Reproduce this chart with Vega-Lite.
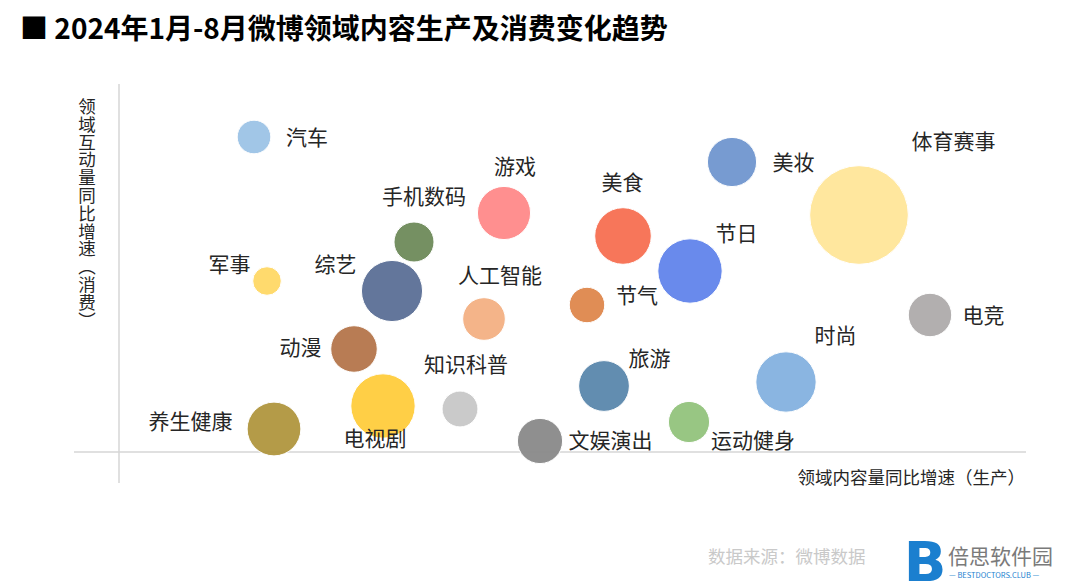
{
  "$schema": "https://vega.github.io/schema/vega-lite/v6.json",
  "width": 1080,
  "height": 588,
  "autosize": {"type": "none"},
  "padding": 0,
  "background": "white",
  "config": {"view": {"stroke": null}, "font": "Noto Sans CJK SC"},
  "title": {
    "text": "■ 2024年1月-8月微博领域内容生产及消费变化趋势",
    "anchor": "start",
    "frame": "group",
    "fontSize": 28,
    "fontWeight": "bold",
    "font": "Noto Sans CJK SC",
    "color": "#000000",
    "offset": -59,
    "baseline": "middle",
    "dx": 20
  },
  "datasets": {
    "bubbles": [
      {"name": "汽车", "x": 13.5, "y": 31.5, "v": 36, "lx": 18.8, "ly": 31.3},
      {"name": "游戏", "x": 38.5, "y": 23.9, "v": 90, "lx": 39.6, "ly": 28.4},
      {"name": "手机数码", "x": 29.5, "y": 21.0, "v": 51, "lx": 30.5, "ly": 25.4},
      {"name": "军事", "x": 14.8, "y": 17.1, "v": 26, "lx": 11.05, "ly": 18.6},
      {"name": "综艺", "x": 27.3, "y": 16.1, "v": 119, "lx": 21.65, "ly": 18.6},
      {"name": "人工智能", "x": 36.5, "y": 13.3, "v": 58, "lx": 38.1, "ly": 17.5},
      {"name": "节气", "x": 46.8, "y": 14.7, "v": 40, "lx": 51.8, "ly": 15.5},
      {"name": "美食", "x": 50.4, "y": 21.6, "v": 102, "lx": 50.35, "ly": 26.8},
      {"name": "美妆", "x": 61.3, "y": 29.0, "v": 77, "lx": 67.45, "ly": 28.8},
      {"name": "体育赛事", "x": 74.0, "y": 23.7, "v": 310, "lx": 83.45, "ly": 30.9},
      {"name": "节日", "x": 57.1, "y": 18.1, "v": 132, "lx": 61.75, "ly": 21.7},
      {"name": "电竞", "x": 81.1, "y": 13.7, "v": 60, "lx": 86.45, "ly": 13.5},
      {"name": "时尚", "x": 66.7, "y": 7.0, "v": 116, "lx": 71.65, "ly": 11.5},
      {"name": "动漫", "x": 23.5, "y": 10.3, "v": 69, "lx": 18.15, "ly": 10.3},
      {"name": "电视剧", "x": 26.4, "y": 4.6, "v": 132, "lx": 25.6, "ly": 1.2},
      {"name": "知识科普", "x": 34.1, "y": 4.3, "v": 41, "lx": 34.7, "ly": 8.6},
      {"name": "养生健康", "x": 15.5, "y": 2.3, "v": 92, "lx": 7.15, "ly": 2.9},
      {"name": "旅游", "x": 48.5, "y": 6.6, "v": 82, "lx": 53.05, "ly": 9.2},
      {"name": "运动健身", "x": 57.0, "y": 3.0, "v": 54, "lx": 63.4, "ly": 1.0},
      {"name": "文娱演出", "x": 42.1, "y": 1.1, "v": 65, "lx": 49.15, "ly": 1.0}
    ]
  },
  "layer": [
    {
      "data": {"values": [{}]},
      "mark": {"type": "rule", "color": "#D6D6D6", "strokeWidth": 1.5},
      "encoding": {
        "x": {"datum": 0, "type": "quantitative", "scale": {"domain": [-11.9, 96.1], "nice": false, "zero": false}, "axis": null},
        "y": {"datum": -3.1, "type": "quantitative", "scale": {"domain": [-13.6, 45.2], "nice": false, "zero": false}, "axis": null},
        "y2": {"datum": 36.8}
      }
    },
    {
      "data": {"values": [{}]},
      "mark": {"type": "rule", "color": "#D6D6D6", "strokeWidth": 1.5},
      "encoding": {
        "x": {"datum": -4.5, "type": "quantitative", "scale": {"domain": [-11.9, 96.1], "nice": false, "zero": false}, "axis": null},
        "x2": {"datum": 90.7},
        "y": {"datum": 0, "type": "quantitative", "scale": {"domain": [-13.6, 45.2], "nice": false, "zero": false}, "axis": null}
      }
    },
    {
      "data": {"name": "bubbles"},
      "mark": {"type": "circle", "opacity": 0.95, "stroke": "#FFFFFF", "strokeWidth": 1},
      "encoding": {
        "x": {"field": "x", "type": "quantitative", "scale": {"domain": [-11.9, 96.1], "nice": false, "zero": false}, "axis": null},
        "y": {"field": "y", "type": "quantitative", "scale": {"domain": [-13.6, 45.2], "nice": false, "zero": false}, "axis": null},
        "size": {"field": "v", "type": "quantitative", "scale": {"type": "linear", "domain": [0, 310], "range": [0, 9739]}, "legend": null},
        "color": {
          "field": "name", "type": "nominal", "legend": null,
          "scale": {
            "domain": ["汽车", "游戏", "手机数码", "军事", "综艺", "人工智能", "节气", "美食", "美妆", "体育赛事", "节日", "电竞", "时尚", "动漫", "电视剧", "知识科普", "养生健康", "旅游", "运动健身", "文娱演出"],
            "range": ["#9DC3E6", "#FF8A8A", "#6E8B5A", "#FFD966", "#5B6F96", "#F4B183", "#DF874C", "#F76F52", "#7096CF", "#FFE699", "#6184EC", "#AEABAB", "#84B2E0", "#B5764B", "#FFCD3D", "#C8C8C8", "#B0963F", "#5A87AC", "#93C47D", "#8A8A8A"]
          }
        }
      }
    },
    {
      "data": {"name": "bubbles"},
      "mark": {"type": "text", "fontSize": 21, "color": "#262626", "align": "center", "baseline": "middle", "font": "Noto Sans CJK SC"},
      "encoding": {
        "x": {"field": "lx", "type": "quantitative", "scale": {"domain": [-11.9, 96.1], "nice": false, "zero": false}, "axis": null},
        "y": {"field": "ly", "type": "quantitative", "scale": {"domain": [-13.6, 45.2], "nice": false, "zero": false}, "axis": null},
        "text": {"field": "name"}
      }
    },
    {
      "data": {"values": [{"t": "领|域|互|动|量|同|比|增|速|︵|消|费|︶"}]},
      "mark": {"type": "text", "fontSize": 17.5, "lineHeight": 17.8, "lineBreak": "|", "color": "#262626", "align": "center", "baseline": "middle"},
      "encoding": {
        "x": {"datum": -3.2, "type": "quantitative", "scale": {"domain": [-11.9, 96.1], "nice": false, "zero": false}, "axis": null},
        "y": {"datum": 34.4, "type": "quantitative", "scale": {"domain": [-13.6, 45.2], "nice": false, "zero": false}, "axis": null},
        "text": {"field": "t"}
      }
    },
    {
      "data": {"values": [{"t": "领域内容量同比增速（生产）"}]},
      "mark": {"type": "text", "fontSize": 17.5, "color": "#262626", "align": "right", "baseline": "middle"},
      "encoding": {
        "x": {"datum": 90.6, "type": "quantitative", "scale": {"domain": [-11.9, 96.1], "nice": false, "zero": false}, "axis": null},
        "y": {"datum": -2.7, "type": "quantitative", "scale": {"domain": [-13.6, 45.2], "nice": false, "zero": false}, "axis": null},
        "text": {"field": "t"}
      }
    },
    {
      "data": {"values": [{"t": "数据来源：微博数据"}]},
      "mark": {"type": "text", "fontSize": 17.5, "color": "#C9C9C9", "align": "left", "baseline": "middle"},
      "encoding": {
        "x": {"datum": 58.9, "type": "quantitative", "scale": {"domain": [-11.9, 96.1], "nice": false, "zero": false}, "axis": null},
        "y": {"datum": -10.6, "type": "quantitative", "scale": {"domain": [-13.6, 45.2], "nice": false, "zero": false}, "axis": null},
        "text": {"field": "t"}
      }
    },
    {
      "data": {"values": [{"t": "B"}]},
      "mark": {"type": "text", "fontSize": 56, "fontWeight": "bold", "font": "DejaVu Sans", "color": "#1B7FCF", "align": "center", "baseline": "middle"},
      "encoding": {
        "x": {"datum": 80.6, "type": "quantitative", "scale": {"domain": [-11.9, 96.1], "nice": false, "zero": false}, "axis": null},
        "y": {"datum": -11.2, "type": "quantitative", "scale": {"domain": [-13.6, 45.2], "nice": false, "zero": false}, "axis": null},
        "text": {"field": "t"}
      }
    },
    {
      "data": {"values": [{"t": "倍思软件园"}]},
      "mark": {"type": "text", "fontSize": 21, "color": "#7A7A7A", "align": "left", "baseline": "middle"},
      "encoding": {
        "x": {"datum": 82.9, "type": "quantitative", "scale": {"domain": [-11.9, 96.1], "nice": false, "zero": false}, "axis": null},
        "y": {"datum": -10.6, "type": "quantitative", "scale": {"domain": [-13.6, 45.2], "nice": false, "zero": false}, "axis": null},
        "text": {"field": "t"}
      }
    },
    {
      "data": {"values": [{"t": "— BESTDOCTORS.CLUB —"}]},
      "mark": {"type": "text", "fontSize": 7.5, "color": "#1B7FCF", "align": "left", "baseline": "middle"},
      "encoding": {
        "x": {"datum": 83.0, "type": "quantitative", "scale": {"domain": [-11.9, 96.1], "nice": false, "zero": false}, "axis": null},
        "y": {"datum": -12.4, "type": "quantitative", "scale": {"domain": [-13.6, 45.2], "nice": false, "zero": false}, "axis": null},
        "text": {"field": "t"}
      }
    }
  ]
}
